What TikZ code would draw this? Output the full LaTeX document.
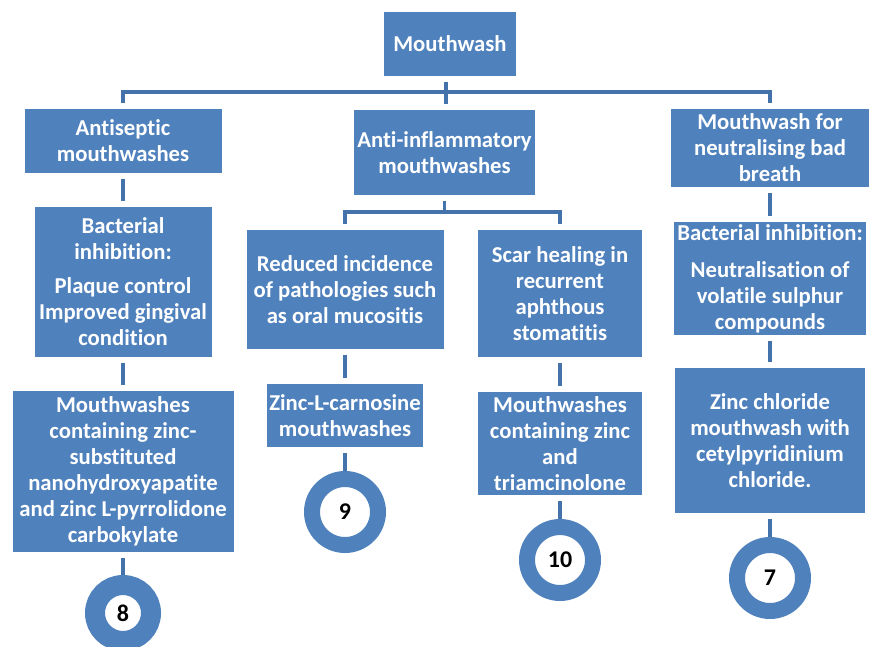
\documentclass[tikz,border=0pt]{standalone}
\usepackage{fontspec}
\setmainfont{Carlito}[Ligatures=NoCommon]
\definecolor{boxblue}{HTML}{4F81BD}
\definecolor{linkblue}{HTML}{4472AA}

\begin{document}
\begin{tikzpicture}[x=1pt,y=-1pt,
  box/.style={rectangle,fill=boxblue,text=white,align=center,inner sep=0pt,font=\bfseries\fontsize{22.7}{26}\selectfont},
  ref/.style={circle,draw=boxblue,fill=white,line width=16pt,minimum size=66pt,inner sep=0pt,font=\bfseries\fontsize{24}{28}\selectfont},
  link/.style={draw=linkblue,line width=3.8pt,shorten <=6pt,shorten >=6pt}]
  \useasboundingbox (0,0) rectangle (869,646);

  \node[box,minimum width=132pt,minimum height=64pt]  (mw)    at (450,44)       {Mouthwash};

  \node[box,minimum width=197pt,minimum height=64pt]  (anti)  at (123,141)      {Antiseptic\\mouthwashes};
  \node[box,minimum width=177pt,minimum height=150pt] (bact)  [below of=anti,node distance=141pt]   {Bacterial\\inhibition:\\[8pt]Plaque control\\Improved gingival\\condition};
  \node[box,minimum width=221pt,minimum height=161pt] (zhap)  [below of=bact,node distance=189.5pt] {Mouthwashes\\containing zinc-\\substituted\\nanohydroxyapatite\\and zinc L-pyrrolidone\\carbokylate};
  \node[ref,line width=20pt,minimum size=56pt]        (c8)    [below of=zhap,node distance=141.5pt] {8};

  \node[box,minimum width=181pt,minimum height=85pt]  (infl)  at (444.5,152.5)  {Anti-inflammatory\\mouthwashes};
  \node[box,minimum width=197pt,minimum height=119pt] (red)   at (345,289.5)    {Reduced incidence\\of pathologies such\\as oral mucositis};
  \node[box,minimum width=156pt,minimum height=63pt]  (zlc)   [below of=red,node distance=126pt]    {Zinc-L-carnosine\\mouthwashes};
  \node[ref]                                          (c9)    [below of=zlc,node distance=96.5pt]   {9};
  \node[box,minimum width=164pt,minimum height=127pt] (scar)  at (560,293.5)    {Scar healing in\\recurrent\\aphthous\\stomatitis};
  \node[box,minimum width=164pt,minimum height=103pt] (ztri)  [below of=scar,node distance=150pt]   {Mouthwashes\\containing zinc\\and\\triamcinolone};
  \node[ref]                                          (c10)   [below of=ztri,node distance=116.5pt] {10};

  \node[box,minimum width=198pt,minimum height=78pt]  (bad)   at (770,148)      {Mouthwash for\\neutralising bad\\breath};
  \node[box,minimum width=192pt,minimum height=113pt] (bact2) [below of=bad,node distance=130.5pt]   {Bacterial inhibition:\\[11pt]Neutralisation of\\volatile sulphur\\compounds};
  \node[box,minimum width=190pt,minimum height=145pt] (zcl)   [below of=bact2,node distance=162pt]  {Zinc chloride\\mouthwash with\\cetylpyridinium\\chloride.};
  \node[ref]                                          (c7)    [below of=zcl,node distance=137.5pt]  {7};

  % branches
  \coordinate (bus)  at (446,92);
  \coordinate (fork) at (444.5,212);
  \draw[link] (mw.south -| bus) -- (infl.north -| bus);
  \draw[link] (anti.north) |- (bus) -| (bad.north);
  \draw[link,shorten >=0pt] (infl.south) -- (fork);
  \draw[link] (red.north) |- (fork) -| (scar.north);

  % columns
  \path[link] (anti)  edge (bact)
              (bact)  edge (zhap)
              (zhap)  edge [shorten >=0pt] (c8)
              (red)   edge (zlc)
              (zlc)   edge [shorten >=0pt] (c9)
              (scar)  edge (ztri)
              (ztri)  edge [shorten >=0pt] (c10)
              (bad)   edge (bact2)
              (bact2) edge (zcl)
              (zcl)   edge [shorten >=0pt] (c7);
\end{tikzpicture}
\end{document}
